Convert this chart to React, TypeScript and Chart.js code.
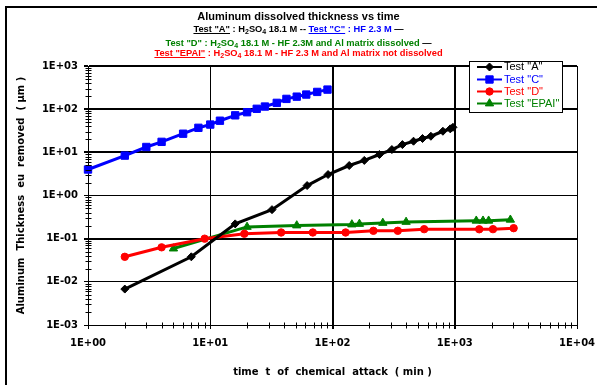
import React, { useEffect, useRef } from "react";
import { Chart, registerables } from "chart.js";

Chart.register(...registerables);

// ---- data ----
const seriesLabels = ['Test "A"', 'Test "C"', 'Test "D"', 'Test "EPAI"'];
const seriesColors = ["#000000", "#0000FF", "#FF0000", "#008000"];

const tA = [2, 7, 16, 32, 62, 92, 137, 182, 242, 306, 373, 460, 545, 638, 800, 919, 967];
const vA = [0.0068, 0.038, 0.22, 0.47, 1.7, 3.06, 4.95, 6.5, 8.9, 11.6, 15.1, 18.1, 20.9, 23.6, 30.8, 35, 38];

const tC = [1, 2, 3, 4, 6, 8, 10, 12, 16, 20, 24, 28, 35, 42, 51, 61, 75, 91];
const vC = [4.0, 8.4, 13.3, 17.5, 27, 37, 44, 54, 72, 85, 102, 115, 140, 173, 195, 218, 251, 284];

const tD = [2, 4, 9, 19, 38, 69, 128, 216, 342, 562, 1586, 2054, 3033];
const vD = [0.038, 0.063, 0.1, 0.13, 0.139, 0.139, 0.139, 0.152, 0.152, 0.166, 0.165, 0.166, 0.175];

const tE = [5, 20, 51, 144, 166, 258, 400, 1500, 1703, 1893, 2851];
const vE = [0.059, 0.187, 0.202, 0.213, 0.219, 0.231, 0.244, 0.26, 0.26, 0.26, 0.274];

const xTicks = [1, 10, 100, 1000, 10000];
const xTickLabels = ["1E+00", "1E+01", "1E+02", "1E+03", "1E+04"];
const yTicks = [0.001, 0.01, 0.1, 1, 10, 100, 1000];
const yTickLabels = ["1E-03", "1E-02", "1E-01", "1E+00", "1E+01", "1E+02", "1E+03"];

const xTitle = "time  t  of  chemical  attack  ( min )";
const yTitle = "Aluminum  Thickness  eu  removed  ( µm )";

const xGridWidths = [1, 1, 2, 2, 1];
const yGridWidths = [1, 1, 2, 1, 2, 2, 2];

const AXFONT = "'DejaVu Sans'";

function drawMarker(ctx: CanvasRenderingContext2D, style: string, x: number, y: number, r: number) {
  ctx.beginPath();
  if (style === "rectRot") {
    ctx.moveTo(x, y - r);
    ctx.lineTo(x + r, y);
    ctx.lineTo(x, y + r);
    ctx.lineTo(x - r, y);
    ctx.closePath();
  } else if (style === "rect") {
    const s = r * Math.SQRT1_2;
    ctx.rect(x - s, y - s, 2 * s, 2 * s);
  } else if (style === "circle") {
    ctx.arc(x, y, r, 0, Math.PI * 2);
  } else if (style === "triangle") {
    for (let k = 0; k < 3; k++) {
      const a = (k * 2 * Math.PI) / 3;
      const px = x + Math.sin(a) * r;
      const py = y - Math.cos(a) * r;
      if (k === 0) ctx.moveTo(px, py);
      else ctx.lineTo(px, py);
    }
    ctx.closePath();
  }
  ctx.fill();
  ctx.stroke();
}

const minorTicksPlugin = {
  id: "minorTicks",
  afterDatasetsDraw(chart: any) {
    const { ctx, scales } = chart;
    const xs = scales.x;
    const ys = scales.y;
    ctx.save();
    ctx.strokeStyle = "#000";
    ctx.lineWidth = 1;
    const yAxisX = Math.round(xs.left) + 0.5;
    const xAxisY = Math.round(ys.bottom) + 0.5;
    for (let d = 0; d < 6; d++) {
      for (let m = 2; m <= 9; m++) {
        const v = m * yTicks[d];
        const py = Math.round(ys.getPixelForValue(v)) + 0.5;
        ctx.beginPath();
        ctx.moveTo(yAxisX - 3, py);
        ctx.lineTo(yAxisX + 3, py);
        ctx.stroke();
      }
    }
    for (let d = 0; d < 4; d++) {
      for (let m = 2; m <= 9; m++) {
        const v = m * xTicks[d];
        const px = Math.round(xs.getPixelForValue(v)) + 0.5;
        ctx.beginPath();
        ctx.moveTo(px, xAxisY - 3);
        ctx.lineTo(px, xAxisY + 3);
        ctx.stroke();
      }
    }
    ctx.restore();
  },
};

const boxLegendPlugin = {
  id: "boxLegend",
  afterDraw(chart: any) {
    const ctx = chart.ctx as CanvasRenderingContext2D;
    ctx.save();
    const x0 = 469.5, y0 = 61.5, w = 93, h = 51;
    ctx.fillStyle = "#fff";
    ctx.fillRect(x0, y0, w, h);
    ctx.strokeStyle = "#000";
    ctx.lineWidth = 1;
    ctx.strokeRect(x0, y0, w, h);
    const rows = [67, 79.5, 91.5, 103.5];
    chart.data.datasets.forEach((ds: any, i: number) => {
      const y = rows[i];
      ctx.strokeStyle = ds.borderColor;
      ctx.lineWidth = 2;
      ctx.beginPath();
      ctx.moveTo(477, y);
      ctx.lineTo(502, y);
      ctx.stroke();
      ctx.fillStyle = ds.pointBackgroundColor;
      ctx.lineWidth = 1;
      drawMarker(ctx, ds.pointStyle, 489.5, y, ds.pointRadius);
      ctx.fillStyle = ds.borderColor;
      ctx.font = "11px 'Liberation Sans'";
      ctx.textBaseline = "middle";
      ctx.textAlign = "left";
      ctx.fillText(ds.label, 504, y);
    });
    ctx.restore();
  },
};

function makeDataset(i: number, ts: number[], vs: number[], style: string, radius: number) {
  return {
    label: seriesLabels[i],
    data: ts.map((t, k) => ({ x: t, y: vs[k] })),
    borderColor: seriesColors[i],
    backgroundColor: seriesColors[i],
    pointBackgroundColor: seriesColors[i],
    pointBorderColor: seriesColors[i],
    pointStyle: style,
    pointRadius: radius,
    pointBorderWidth: 1,
    borderWidth: 3,
    tension: 0,
    clip: false as any,
  };
}

export default function App() {
  const canvasRef = useRef<HTMLCanvasElement | null>(null);

  useEffect(() => {
    const canvas = canvasRef.current;
    if (!canvas) return;
    const chart = new Chart(canvas, {
      type: "line",
      data: {
        datasets: [
          makeDataset(0, tA, vA, "rectRot", 4),
          makeDataset(1, tC, vC, "rect", 5.2),
          makeDataset(2, tD, vD, "circle", 3.7),
          makeDataset(3, tE, vE, "triangle", 4.8),
        ] as any,
      },
      options: {
        animation: false,
        responsive: false,
        devicePixelRatio: 1,
        layout: { padding: { left: 0, top: 66, right: 20, bottom: 0 } },
        plugins: {
          legend: { display: false },
          tooltip: { enabled: false },
          title: { display: false },
        },
        scales: {
          x: {
            type: "logarithmic",
            min: 1,
            max: 10000,
            afterBuildTicks: (scale: any) => {
              scale.ticks = xTicks.map((v) => ({ value: v, major: true }));
            },
            afterFit: (scale: any) => {
              scale.height = 60;
              scale.paddingLeft = 0;
              scale.paddingRight = 0;
            },
            ticks: {
              autoSkip: false,
              maxRotation: 0,
              padding: 8,
              color: "#000",
              font: { family: AXFONT, weight: "bold", size: 10 },
              callback: (_v: any, idx: number) => xTickLabels[idx],
            },
            grid: {
              color: "#000",
              lineWidth: (c: any) => xGridWidths[c.index] ?? 1,
              tickLength: 4,
              drawTicks: true,
            },
            border: { display: true, color: "#000", width: 1 },
            title: {
              display: true,
              text: xTitle,
              color: "#000",
              font: { family: AXFONT, weight: "bold", size: 10 },
              padding: { top: 0, bottom: 7 },
            },
          },
          y: {
            type: "logarithmic",
            min: 0.001,
            max: 1000,
            afterBuildTicks: (scale: any) => {
              scale.ticks = yTicks.map((v) => ({ value: v, major: true }));
            },
            afterFit: (scale: any) => {
              scale.width = 88;
              scale.paddingTop = 0;
              scale.paddingBottom = 0;
            },
            ticks: {
              autoSkip: false,
              padding: 6,
              color: "#000",
              font: { family: AXFONT, weight: "bold", size: 10 },
              callback: (_v: any, idx: number) => yTickLabels[idx],
            },
            grid: {
              color: "#000",
              lineWidth: (c: any) => yGridWidths[c.index] ?? 1,
              tickLength: 4,
              drawTicks: true,
            },
            border: { display: true, color: "#000", width: 1 },
            title: {
              display: true,
              text: yTitle,
              color: "#000",
              font: { family: AXFONT, weight: "bold", size: 10 },
              padding: { top: 15, bottom: 0 },
            },
          },
        },
      } as any,
      plugins: [minorTicksPlugin, boxLegendPlugin],
    });
    return () => chart.destroy();
  }, []);

  const lineStyle: React.CSSProperties = {
    position: "absolute",
    left: 0,
    width: 597,
    textAlign: "center",
    fontFamily: "'Liberation Sans', Arial, sans-serif",
    fontWeight: "bold",
    whiteSpace: "nowrap",
  };
  const sub: React.CSSProperties = { fontSize: "7px", verticalAlign: "-2px", lineHeight: 0 };

  return (
    <div
      style={{
        position: "fixed",
        left: 0,
        top: 0,
        width: 597,
        height: 385,
        overflow: "hidden",
        background: "#fff",
      }}
    >
      <canvas ref={canvasRef} width={597} height={385} style={{ display: "block", position: "absolute", left: 0, top: 0 }} />
      <div
        style={{
          position: "absolute",
          left: 5,
          top: 6,
          width: 700,
          height: 500,
          borderLeft: "2px solid #000",
          borderTop: "2px solid #000",
          pointerEvents: "none",
        }}
      />
      <div style={{ ...lineStyle, top: 10, fontSize: "11px", lineHeight: "13px", color: "#000" }}>
        Aluminum dissolved thickness vs time
      </div>
      <div style={{ ...lineStyle, top: 24, fontSize: "9.3px", lineHeight: "11px", color: "#000" }}>
        <span style={{ textDecoration: "underline" }}>Test "A"</span> : H<span style={sub}>2</span>SO<span style={sub}>4</span> 18.1 M --{" "}
        <span style={{ color: "#0000FF" }}>
          <span style={{ textDecoration: "underline" }}>Test "C"</span> : HF 2.3 M
        </span>{" "}
        —
      </div>
      <div style={{ ...lineStyle, top: 37.5, fontSize: "9.3px", lineHeight: "11px", color: "#008000" }}>
        Test "D" : H<span style={sub}>2</span>SO<span style={sub}>4</span> 18.1 M - HF 2.3M and Al matrix dissolved{" "}
        <span style={{ color: "#000" }}>—</span>
      </div>
      <div style={{ ...lineStyle, top: 47.5, fontSize: "9.3px", lineHeight: "11px", color: "#FF0000" }}>
        <span style={{ textDecoration: "underline" }}>Test "EPAI"</span> : H<span style={sub}>2</span>SO<span style={sub}>4</span> 18.1 M - HF 2.3 M and Al matrix not dissolved
      </div>
    </div>
  );
}
